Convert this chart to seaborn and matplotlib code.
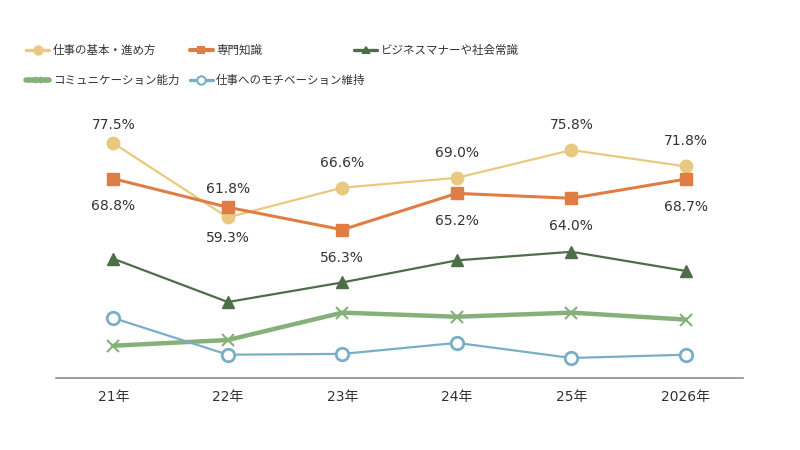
import pandas as pd
import seaborn as sns
import matplotlib.pyplot as plt
from matplotlib.lines import Line2D

# Data (percent)
years = ["21年", "22年", "23年", "24年", "25年", "2026年"]
series_names = [
    "仕事の基本・進め方",
    "専門知識",
    "ビジネスマナーや社会常識",
    "コミュニケーション能力",
    "仕事へのモチベーション維持",
]
basics = [77.5, 59.3, 66.6, 69.0, 75.8, 71.8]
expertise = [68.8, 61.8, 56.3, 65.2, 64.0, 68.7]
manners = [49.2, 38.6, 43.4, 48.8, 50.9, 46.2]
communication = [27.9, 29.3, 36.0, 35.0, 36.0, 34.3]
motivation = [34.7, 25.7, 25.9, 28.6, 24.9, 25.7]

values = [basics, expertise, manners, communication, motivation]

# styles per series: color, marker, face, line width, marker size, edge width
styles = {
    "仕事の基本・進め方": dict(color="#E9C97F", marker="o", mfc="#E9C97F", lw=1.6, ms=9, mew=1),
    "専門知識": dict(color="#E07D45", marker="s", mfc="#E07D45", lw=2.2, ms=8, mew=1),
    "ビジネスマナーや社会常識": dict(color="#4D6E48", marker="^", mfc="#4D6E48", lw=1.6, ms=8, mew=1),
    "コミュニケーション能力": dict(color="#86B07A", marker="x", mfc="#86B07A", lw=3.2, ms=8, mew=1.5),
    "仕事へのモチベーション維持": dict(color="#79AFC5", marker="o", mfc="white", lw=1.6, ms=9, mew=2),
}

rows = []
for name, vals in zip(series_names, values):
    for i, (yr, v) in enumerate(zip(years, vals)):
        rows.append({"series": name, "x": i, "year": yr, "value": v})
df = pd.DataFrame(rows)

sns.set_theme(style="white")
plt.rcParams["font.family"] = ["DejaVu Sans", "Noto Sans CJK JP"]

fig = plt.figure(figsize=(8, 4.5), dpi=100)
ax = fig.add_axes([0.07, 0.16, 0.859, 0.59])

for name in series_names:
    st = styles[name]
    sub = df[df["series"] == name]
    sns.lineplot(data=sub, x="x", y="value", ax=ax, color=st["color"], linewidth=st["lw"],
                 marker=st["marker"], markersize=st["ms"], markerfacecolor=st["mfc"],
                 markeredgecolor=st["color"], markeredgewidth=st["mew"], legend=False)

# data labels for the first two series: vertical offset in points
basics_off = [13, -15, 18, 18, 18, 18]
expertise_off = [-20, 13, -20, -20, -20, -20]
for vals, offs in [(basics, basics_off), (expertise, expertise_off)]:
    for i, (v, o) in enumerate(zip(vals, offs)):
        ax.annotate(f"{v:.1f}%", (i, v), xytext=(0, o), textcoords="offset points",
                    ha="center", va="center", fontsize=10, color="#333333",
                    family="DejaVu Sans")

ax.set_xlim(-0.5, 5.5)
ax.set_ylim(20, 85)
ax.set_xticks(range(len(years)))
ax.set_xticklabels(years, fontsize=10, color="#333333")
ax.set_yticks([])
ax.set_xlabel("")
ax.set_ylabel("")
ax.tick_params(axis="x", length=0, pad=9)
for s in ["top", "left", "right"]:
    ax.spines[s].set_visible(False)
ax.spines["bottom"].set_color("#8C8C8C")
ax.spines["bottom"].set_linewidth(1.2)


# legend: three columns placed by hand
def handle(name):
    st = styles[name]
    return Line2D([], [], color=st["color"], lw=st["lw"] + 0.8, marker=st["marker"],
                  markersize=st["ms"] - 3, markerfacecolor=st["mfc"], markeredgecolor=st["color"],
                  markeredgewidth=1.5)


columns = [(0.033, [series_names[0], series_names[3]]),
           (0.237, [series_names[1], series_names[4]]),
           (0.443, [series_names[2]])]
for x0, names in columns:
    leg = fig.legend([handle(n) for n in names], names, loc="upper left",
                     bbox_to_anchor=(x0, 0.902), frameon=False, borderpad=0, borderaxespad=0,
                     handlelength=2.0, handletextpad=0.3, labelspacing=1.45,
                     prop={"family": ["Noto Sans CJK JP"], "size": 8.3})
    for t in leg.get_texts():
        t.set_color("#333333")

fig.savefig("out.png", dpi=100)
